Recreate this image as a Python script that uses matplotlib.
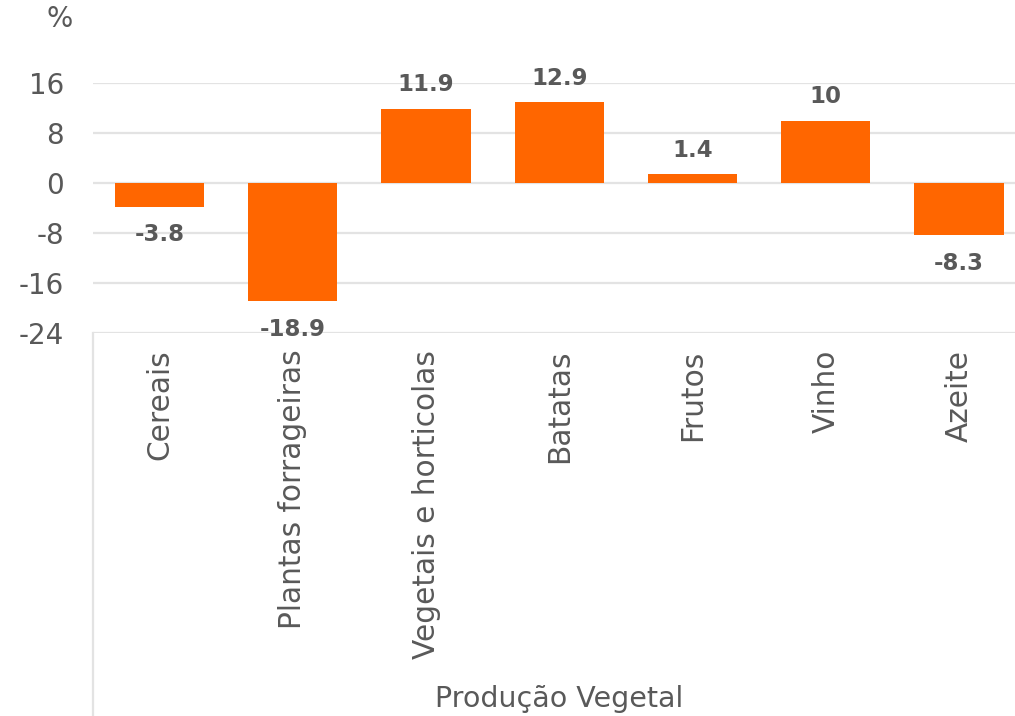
import matplotlib
matplotlib.use("Agg")
import matplotlib.pyplot as plt
from matplotlib.lines import Line2D

categories = ["Cereais", "Plantas forrageiras", "Vegetais e horticolas",
              "Batatas", "Frutos", "Vinho", "Azeite"]
values = [-3.8, -18.9, 11.9, 12.9, 1.4, 10, -8.3]
value_labels = ["-3.8", "-18.9", "11.9", "12.9", "1.4", "10", "-8.3"]
yticks = [-24, -16, -8, 0, 8, 16]
group_label = "Produção Vegetal"

text_color = "#595959"
bar_color = "#FF6600"
grid_color = "#E3E3E3"

plt.rcParams['font.family'] = ['DejaVu Sans']

fig = plt.figure(figsize=(10.15, 7.16), dpi=100)
ax = fig.add_axes([93 / 1015, 1 - 333 / 716, 1 - 93 / 1015, 250 / 716])

x = list(range(len(categories)))
ax.bar(x, values, width=0.67, color=bar_color, zorder=3)

for xi, v, lab in zip(x, values, value_labels):
    if v >= 0:
        ax.annotate(lab, (xi, v), xytext=(0, 9), textcoords="offset points",
                    ha="center", va="bottom", fontsize=16.5, fontweight="bold",
                    color=text_color)
    else:
        ax.annotate(lab, (xi, v), xytext=(0, -12), textcoords="offset points",
                    ha="center", va="top", fontsize=16.5, fontweight="bold",
                    color=text_color)

ax.set_xlim(-0.5, 6.42)
ax.set_ylim(-24, 16)
ax.set_yticks(yticks)
ax.set_yticklabels([str(t) for t in yticks])
ax.set_xticks(x)
ax.set_xticklabels(categories, rotation=90, va="top", ha="center")

ax.tick_params(axis="y", length=0, pad=21, labelsize=20, labelcolor=text_color)
ax.tick_params(axis="x", length=0, pad=12, labelsize=21.3, labelcolor=text_color)

ax.yaxis.grid(True, color=grid_color, linewidth=1.6, zorder=0)
ax.set_axisbelow(True)
for s in ax.spines.values():
    s.set_visible(False)

# divider line under the category axis
fig.add_artist(Line2D([93 / 1015, 93 / 1015], [0, 1 - 333 / 716],
                      color=grid_color, linewidth=1.6))

fig.text(60 / 1015, 1 - 19 / 716, "%", ha="center", va="center",
         fontsize=20, color=text_color)
fig.text(559 / 1015, 1 - 699 / 716, group_label, ha="center", va="center",
         fontsize=20.5, color=text_color)

fig.savefig("out.png", dpi=100)
